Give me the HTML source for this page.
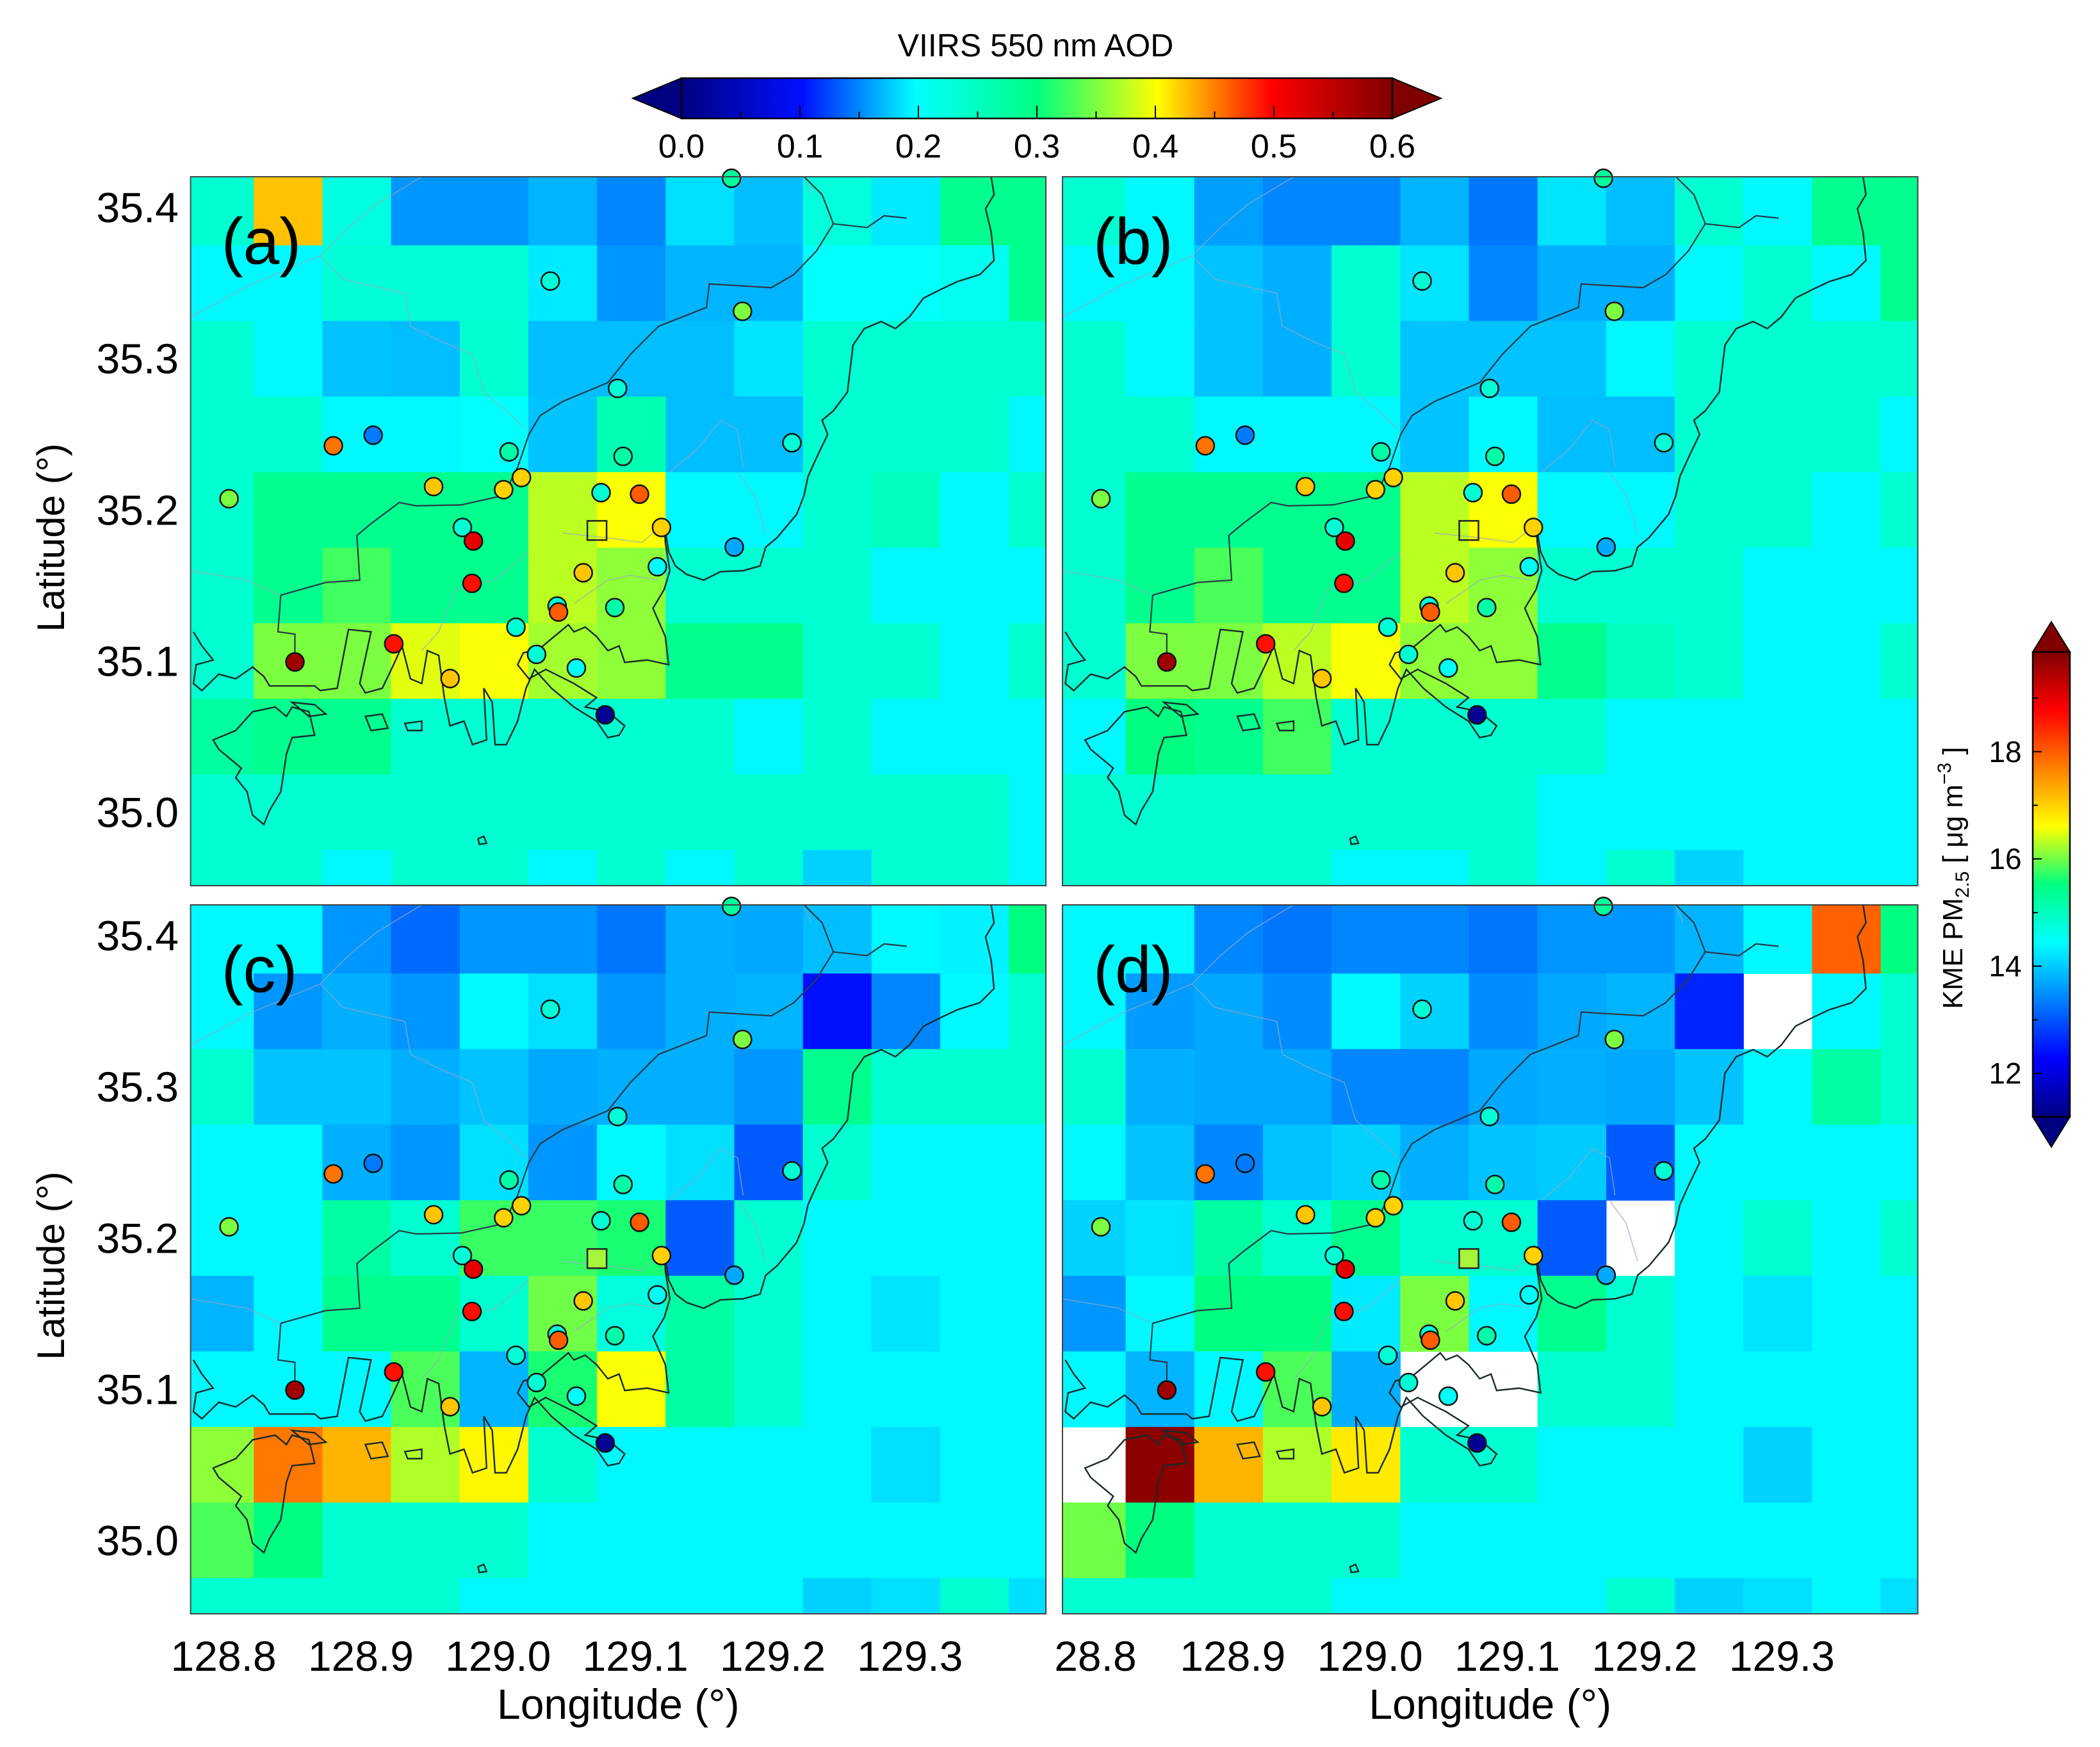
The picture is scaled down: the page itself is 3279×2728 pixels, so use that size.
<!DOCTYPE html>
<html><head><meta charset="utf-8"><title>VIIRS AOD and KME PM2.5 maps</title>
<style>
html,body{margin:0;padding:0;background:#fff;}
svg{display:block;font-family:"Liberation Sans",Arial,sans-serif;}
</style></head>
<body>
<svg id="fig" width="3279" height="2728" viewBox="0 0 3279 2728" xmlns="http://www.w3.org/2000/svg">
<defs>
<linearGradient id="aodGrad" x1="0" y1="0" x2="1" y2="0">
<stop offset="0" stop-color="#000080"/><stop offset="0.17" stop-color="#0010FF"/><stop offset="0.33" stop-color="#00FFFF"/><stop offset="0.5" stop-color="#00FF80"/><stop offset="0.67" stop-color="#FFFF00"/><stop offset="0.83" stop-color="#FF0000"/><stop offset="1" stop-color="#800000"/>
</linearGradient>
<linearGradient id="pmGrad" x1="0" y1="1" x2="0" y2="0">
<stop offset="0" stop-color="#000080"/><stop offset="0.125" stop-color="#0000FF"/><stop offset="0.375" stop-color="#00FFFF"/><stop offset="0.5" stop-color="#00FF80"/><stop offset="0.625" stop-color="#FFFF00"/><stop offset="0.875" stop-color="#FF0000"/><stop offset="1" stop-color="#800000"/>
</linearGradient>
</defs>
<g id="panels"></g>
<g id="axes"></g>
<g id="cbars"></g>
</svg>
<script>
// ---------- data ----------
const aodTicks = [0.0,0.1,0.2,0.3,0.4,0.5,0.6];
const pmTicks = [12,14,16,18];
const lonTicks = [128.8,128.9,129.0,129.1,129.2,129.3];
const latTicks = [35.0,35.1,35.2,35.3,35.4];
const panelLabels = ["(a)","(b)","(c)","(d)"];
// AOD grid values, 10 rows (north->south) x 13 columns (west->east); null = missing
const aodA = [
[.235,.425,.222,.156,.156,.168,.150,.185,.172,.228,.190,.288,.288],
[.195,.195,.230,.230,.230,.190,.156,.168,.168,.200,.200,.210,.288],
[.235,.195,.174,.172,.235,.172,.172,.172,.187,.235,.235,.235,.235],
[.235,.235,.195,.195,.200,.174,.260,.172,.172,.235,.235,.235,.195],
[.235,.288,.288,.288,.288,.375,.400,.195,.195,.235,.250,.195,.235],
[.235,.288,.325,.288,.288,.375,.357,.235,.235,.235,.195,.195,.195],
[.235,.350,.350,.390,.400,.365,.357,.288,.288,.235,.235,.195,.235],
[.275,.288,.288,.235,.235,.235,.235,.235,.195,.235,.195,.195,.195],
[.235,.235,.235,.235,.235,.235,.235,.235,.235,.235,.235,.235,.195],
[.235,.235,.195,.235,.235,.195,.235,.195,.235,.180,.235,.235,.195]];
const aodB = [
[.235,.195,.160,.150,.150,.168,.143,.187,.172,.235,.195,.288,.288],
[.195,.195,.174,.166,.235,.187,.150,.166,.166,.195,.235,.195,.288],
[.235,.195,.174,.166,.235,.174,.174,.174,.195,.235,.235,.235,.235],
[.235,.235,.195,.195,.195,.174,.195,.172,.172,.235,.235,.235,.195],
[.235,.288,.288,.288,.288,.375,.400,.195,.195,.235,.235,.195,.235],
[.235,.288,.330,.288,.288,.375,.357,.235,.235,.235,.195,.195,.195],
[.235,.350,.350,.375,.400,.357,.357,.288,.250,.235,.195,.195,.235],
[.195,.300,.288,.325,.235,.235,.235,.235,.195,.195,.195,.195,.195],
[.235,.235,.235,.235,.235,.235,.235,.195,.195,.195,.195,.195,.195],
[.235,.235,.235,.235,.195,.195,.235,.195,.235,.180,.195,.195,.195]];
const aodC = [
[.195,.195,.156,.138,.156,.156,.143,.166,.163,.172,.195,.193,.300],
[.195,.156,.166,.156,.195,.185,.156,.166,.168,.100,.150,.195,.235],
[.235,.174,.174,.166,.174,.163,.166,.166,.156,.288,.235,.235,.235],
[.195,.195,.166,.156,.185,.156,.195,.185,.132,.235,.195,.195,.195],
[.195,.195,.273,.235,.322,.322,.310,.132,.235,.195,.195,.195,.195],
[.168,.195,.288,.288,.235,.345,.225,.273,.235,.195,.187,.195,.195],
[.195,.195,.195,.330,.168,.310,.400,.273,.235,.195,.195,.195,.195],
[.357,.453,.430,.370,.405,.235,.195,.195,.195,.195,.185,.195,.195],
[.330,.300,.235,.235,.235,.195,.195,.195,.195,.195,.195,.195,.195],
[.235,.235,.235,.235,.195,.195,.195,.195,.195,.180,.185,.235,.185]];
const aodD = [
[.195,.195,.150,.143,.150,.150,.143,.156,.156,.168,.195,.462,.300],
[.195,.158,.163,.152,.195,.180,.152,.163,.168,.110,null,.195,.235],
[.235,.166,.163,.163,.150,.150,.163,.166,.163,.174,.195,.273,.235],
[.195,.174,.150,.174,.180,.166,.174,.177,.132,.195,.195,.195,.195],
[.180,.187,.273,.235,.288,.235,.235,.132,null,.195,.235,.195,.235],
[.156,.195,.300,.300,.190,.350,.195,.288,.235,.195,.187,.195,.195],
[.195,.168,.195,.330,.166,null,null,.235,.235,.195,.195,.195,.195],
[null,.590,.430,.370,.410,.235,.235,.195,.195,.195,.180,.195,.195],
[.345,.300,.235,.235,.235,.195,.195,.195,.195,.195,.195,.195,.195],
[.235,.235,.235,.235,.195,.195,.195,.195,.235,.180,.185,.195,.185]];
// station locations and PM2.5 values
const stLon = [129.170,129.038,129.178,129.087,128.880,128.909,129.008,129.091,129.214,128.804,128.953,129.004,129.017,129.075,129.103,129.119,128.974,128.982,128.981,129.062,129.116,129.172,129.085,129.043,129.044,129.013,128.924,128.852,129.028,129.057,128.965,129.078];
const stLat = [35.419,35.351,35.331,35.280,35.242,35.249,35.238,35.235,35.244,35.207,35.215,35.213,35.221,35.211,35.210,35.188,35.188,35.179,35.151,35.158,35.162,35.175,35.135,35.136,35.132,35.122,35.111,35.099,35.104,35.095,35.088,35.064];
const stPM  = [15.3,14.8,16.05,14.8,17.8,13.3,15.2,15.2,14.8,16.05,17.1,17.0,17.0,14.8,18.0,17.0,14.8,19.0,18.65,17.1,14.5,13.7,15.2,14.8,18.0,14.8,18.65,19.6,14.8,14.5,17.1,11.35];
const refLon = [129.072];
const refLat = [35.186];

// ---------- geometry ----------
const PW = 1335.5, PH = 1107;
const panelX = [297.6,1659,297.6,1659];
const panelY = [276,276,1413,1413];
const LON0 = 128.776, LON1 = 129.399, LAT0 = 35.420, LAT1 = 34.951;
const GRID_LON0 = 128.822, GRID_LAT0 = 35.3746, DG = 0.05;
const PM_MIN = 11.19, PM_MAX = 19.86;
function xs(p, lon){ return panelX[p] + (lon-LON0)/(LON1-LON0)*PW; }
function ys(p, lat){ return panelY[p] + (LAT0-lat)/(LAT0-LAT1)*PH; }
function lerpStops(stops, t){
  t = Math.max(0, Math.min(1, t));
  for (let i=1;i<stops.length;i++){
    if (t <= stops[i][0]){
      const a = stops[i-1], b = stops[i], f = (t-a[0])/(b[0]-a[0]);
      const c = [0,1,2].map(k => Math.round(a[1][k] + (b[1][k]-a[1][k])*f));
      return `rgb(${c[0]},${c[1]},${c[2]})`;
    }
  }
  const l = stops[stops.length-1][1]; return `rgb(${l[0]},${l[1]},${l[2]})`;
}
const aodStops = [[0,[0,0,128]],[0.17,[0,16,255]],[0.33,[0,255,255]],[0.5,[0,255,128]],[0.67,[255,255,0]],[0.83,[255,0,0]],[1,[128,0,0]]];
const pmStops = [[0,[0,0,128]],[0.125,[0,0,255]],[0.375,[0,255,255]],[0.5,[0,255,128]],[0.625,[255,255,0]],[0.875,[255,0,0]],[1,[128,0,0]]];
function aodColor(v){ return lerpStops(aodStops, v/0.6); }
function pmColor(v){ return lerpStops(pmStops, (v-PM_MIN)/(PM_MAX-PM_MIN)); }

const NS = "http://www.w3.org/2000/svg";
function mk(tag, attrs, parent){
  const e = document.createElementNS(NS, tag);
  for (const k in attrs) e.setAttribute(k, attrs[k]);
  if (parent) parent.appendChild(e);
  return e;
}

// coastline paths (panel-relative coords, viewBox 20 22 1517 1508)
const coastMain = "M1440,22 L1445,60 1430,90 1440,140 1445,200 1420,230 1380,245 1350,262 1320,280 1295,320 1270,345 1245,330 1215,345 1195,380 1190,430 1185,480 1160,520 1140,540 1150,570 1130,620 1115,660 1108,700 1095,740 1060,790 1040,810 1030,850 1000,860 960,862 930,880 900,868 880,850 868,820 860,760 862,800 870,860 860,900 840,940 862,1000 868,1060 830,1050 790,1055 780,1020 760,1030 740,1000 720,980 700,990 690,975 665,1000 640,1025 610,1035 600,1060 620,1090 650,1070 700,1100 740,1130 720,1150 760,1160 790,1190 780,1210 760,1215 740,1180 700,1150 660,1110 630,1070 615,1110 600,1180 580,1230 560,1230 555,1140 540,1110 545,1220 520,1230 505,1180 480,1190 470,1130 460,1040 440,1030 430,1100 410,1090 395,1020 380,1060 360,1110 330,1120 320,1100 340,990 300,985 280,1110 250,1115 240,1105 160,1105 150,1085 130,1065 100,1090 70,1080 40,1115 25,1100 30,1060 60,1050 40,1020 25,990";
const coastIsland = "M60,1220 L100,1200 130,1160 170,1150 190,1170 200,1150 230,1160 240,1210 200,1215 190,1250 180,1330 160,1370 150,1400 130,1380 120,1330 100,1300 110,1280 90,1260 70,1240 Z";
const coastIsle2 = "M200,1140 L240,1145 260,1165 230,1170 Z M330,1170 L360,1165 370,1195 340,1200 Z M400,1185 L430,1180 430,1200 405,1200 Z M530,1430 L540,1425 545,1440 532,1442 Z";
const adminLine = "M1108,22 L1140,60 1160,122 1220,130 1250,105 1290,110 M1160,122 L1130,180 1090,230 1050,258 940,250 935,300 850,340 800,400 760,460 680,500 640,530 620,570 600,640 575,700 500,720 420,722 390,715 340,760 315,785 320,880 260,885 180,912 175,990 205,995 205,1070";
const grayLines = "M20,320 L130,250 250,190 300,130 350,80 430,22 M250,190 L290,240 400,270 410,340 460,370 520,400 540,480 580,520 615,560 M20,860 L120,880 175,910 M620,820 L560,880 490,900 460,990 430,1030 M680,780 L760,790 820,800 860,760 M700,930 L760,880 800,870 850,880 M990,650 L1020,700 1040,780 M1108,22 L1120,60 M870,650 L920,600 960,540 990,560 1000,640";

function drawPanel(p, grid){
  const g = mk("g", {}, document.getElementById("panels"));
  
  
  const clipId = "clip"+p;
  const cp = mk("clipPath", {id: clipId}, g);
  mk("rect", {x: panelX[p], y: panelY[p], width: PW, height: PH}, cp);
  const cells = mk("g", {"clip-path": `url(#${clipId})`}, g);
  
  
  mk("rect", {x: panelX[p], y: panelY[p], width: PW, height: PH, fill: "#fff"}, cells);
  for (let r=0;r<grid.length;r++){
    for (let c=0;c<grid[r].length;c++){
      const v = grid[r][c];
      if (v === null) continue;
      const lonW = GRID_LON0 + (c-1)*DG, lonE = GRID_LON0 + c*DG;
      const latN = GRID_LAT0 - (r-1)*DG, latS = GRID_LAT0 - r*DG;
      const x0 = xs(p, lonW), x1 = xs(p, lonE), y0 = ys(p, latN), y1 = ys(p, latS);
      const rc = mk("rect", {x: x0, y: y0, width: x1-x0+0.6, height: y1-y0+0.6, fill: aodColor(v)}, cells);
      
      
    }
  }
  const sx = PW/1517, sy = PH/1508;
  const cg = mk("g", {transform: `translate(${panelX[p]},${panelY[p]}) scale(${sx},${sy}) translate(-20,-22)`}, cells);
  
  
  mk("path", {d: grayLines, fill: "none", stroke: "#9ab", "stroke-width": 1.6, "vector-effect": "non-scaling-stroke", opacity: 0.7}, cg);
  mk("path", {d: adminLine, fill: "none", stroke: "#2a3a44", "stroke-width": 2.2, "vector-effect": "non-scaling-stroke"}, cg);
  mk("path", {d: coastMain, fill: "none", stroke: "#1a2a2a", "stroke-width": 2.4, "vector-effect": "non-scaling-stroke"}, cg);
  mk("path", {d: coastIsland, fill: "none", stroke: "#1a2a2a", "stroke-width": 2.4, "vector-effect": "non-scaling-stroke"}, cg);
  mk("path", {d: coastIsle2, fill: "none", stroke: "#1a2a2a", "stroke-width": 2.4, "vector-effect": "non-scaling-stroke"}, cg);
  for (let i=0;i<stLon.length;i++){
    const c = mk("circle", {cx: xs(p, stLon[i]), cy: ys(p, stLat[i]), r: 14, fill: pmColor(stPM[i]), stroke: "#111", "stroke-width": 2.5}, g);
    
    
  }
  for (let i=0;i<refLon.length;i++){
    const s = mk("rect", {x: xs(p, refLon[i])-15, y: ys(p, refLat[i])-15, width: 30, height: 30, fill: p>=2 ? "#a6f53a" : "none", stroke: "#222", "stroke-width": 2.5}, g);
    
    
  }
  const fr = mk("rect", {x: panelX[p], y: panelY[p], width: PW, height: PH, fill: "none", stroke: "#444", "stroke-width": 2}, g);
  
  
  const lb = mk("text", {x: panelX[p]+48, y: panelY[p]+136, "font-size": 102, fill: "#000"}, g);
  lb.textContent = panelLabels[p];
  
  
}
[aodA, aodB, aodC, aodD].forEach((grid, p) => drawPanel(p, grid));

const ax = document.getElementById("axes");
[0,2].forEach(p => {
  latTicks.forEach(t => {
    const tx = mk("text", {x: 279, y: ys(p, t)+24, "font-size": 66, "text-anchor": "end"}, ax);
    tx.textContent = t.toFixed(1);
    
    
  });
  const cy = panelY[p] + PH/2 + 10;
  const yt = mk("text", {x: 0, y: 0, "font-size": 60, "text-anchor": "middle", transform: `translate(100,${cy}) rotate(-90)`}, ax);
  yt.textContent = "Latitude (°)";
  
  
});
[2,3].forEach(p => {
  lonTicks.forEach((t, i) => {
    const tx = mk("text", {x: xs(p, t), y: 2609, "font-size": 66, "text-anchor": "middle"}, ax);
    tx.textContent = (p===3 && i===0) ? "28.8" : t.toFixed(1);
    
    
  });
  const xt = mk("text", {x: panelX[p]+PW/2, y: 2684, "font-size": 66, "text-anchor": "middle"}, ax);
  xt.textContent = "Longitude (°)";
  
  
});

// AOD colorbar (top)
const cb = document.getElementById("cbars");
const AX0 = 1064, AX1 = 2174, AY0 = 122, AY1 = 185;
const ag = mk("g", {}, cb);


mk("polygon", {points: `${AX0},${AY0} ${AX0},${AY1} 988,${(AY0+AY1)/2}`, fill: "#000080", stroke: "#000", "stroke-width": 2}, ag);
mk("polygon", {points: `${AX1},${AY0} ${AX1},${AY1} 2250,${(AY0+AY1)/2}`, fill: "#800000", stroke: "#000", "stroke-width": 2}, ag);
mk("rect", {x: AX0, y: AY0, width: AX1-AX0, height: AY1-AY0, fill: "url(#aodGrad)", stroke: "#000", "stroke-width": 2.5}, ag);
aodTicks.forEach((t, i) => {
  const x = AX0 + t/0.6*(AX1-AX0);
  if (i>0 && i<aodTicks.length-1) mk("line", {x1: x, y1: AY1, x2: x, y2: AY1-20, stroke: "#000", "stroke-width": 2}, ag);
  if (i<aodTicks.length-1) { const xm = x + (0.05/0.6)*(AX1-AX0); mk("line", {x1: xm, y1: AY1, x2: xm, y2: AY1-11, stroke: "#000", "stroke-width": 2}, ag); }
  const tx = mk("text", {x: x, y: 246, "font-size": 52, "text-anchor": "middle"}, ag);
  tx.textContent = t.toFixed(1);
  
  
});
const at = mk("text", {x: 1617, y: 88, "font-size": 50, "text-anchor": "middle"}, ag);
at.textContent = "VIIRS 550 nm AOD";



// PM colorbar (right)
const PX0 = 3174, PX1 = 3232, PY0 = 1018, PY1 = 1744;
const pg = mk("g", {}, cb);


mk("polygon", {points: `${PX0},${PY0} ${PX1},${PY0} ${(PX0+PX1)/2},971`, fill: "#800000", stroke: "#000", "stroke-width": 2}, pg);
mk("polygon", {points: `${PX0},${PY1} ${PX1},${PY1} ${(PX0+PX1)/2},1791`, fill: "#000080", stroke: "#000", "stroke-width": 2}, pg);
mk("rect", {x: PX0, y: PY0, width: PX1-PX0, height: PY1-PY0, fill: "url(#pmGrad)", stroke: "#000", "stroke-width": 2.5}, pg);
function pmY(v){ return PY1 - (v-PM_MIN)/(PM_MAX-PM_MIN)*(PY1-PY0); }
pmTicks.forEach(t => {
  const y = pmY(t);
  mk("line", {x1: PX0, y1: y, x2: PX0+14, y2: y, stroke: "#000", "stroke-width": 2}, pg);
  const ym = pmY(t+1);
  mk("line", {x1: PX0, y1: ym, x2: PX0+8, y2: ym, stroke: "#000", "stroke-width": 2}, pg);
  const tx = mk("text", {x: 3131, y: y+16, "font-size": 46, "text-anchor": "middle"}, pg);
  tx.textContent = String(t);
  
  
});
const pt = mk("text", {x: 0, y: 0, "font-size": 44, "text-anchor": "middle", transform: "translate(3064,1371) rotate(-90)"}, pg);
pt.innerHTML = 'KME PM<tspan font-size="30" dy="10">2.5</tspan><tspan dy="-10"> [ μg m</tspan><tspan font-size="30" dy="-18">−3</tspan><tspan dy="18"> ]</tspan>';


</script>
</body></html>
